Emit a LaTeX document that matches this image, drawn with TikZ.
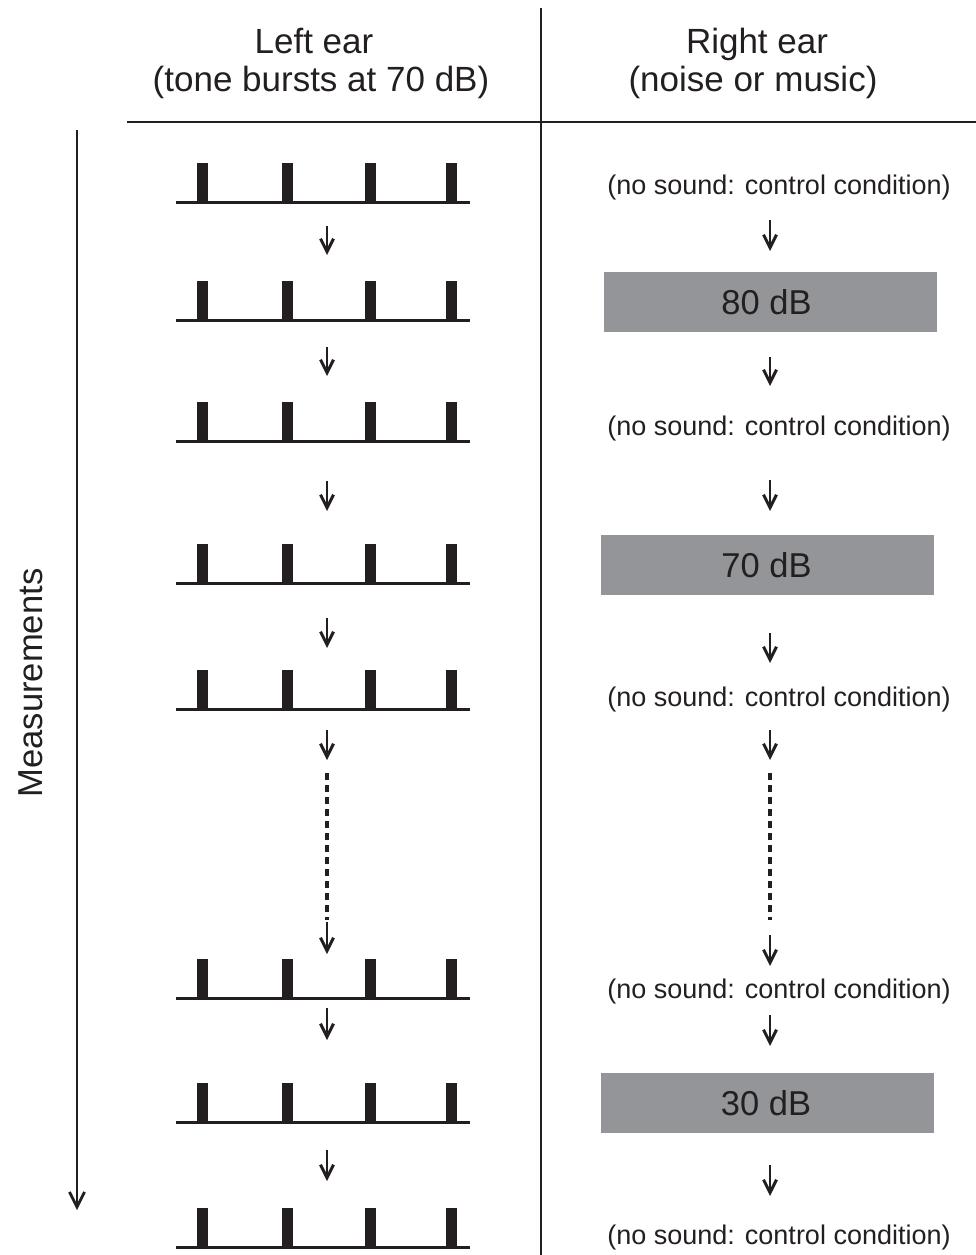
\documentclass[tikz,border=0pt]{standalone}
\usepackage{fontspec}
\setmainfont{Liberation Sans}
\usetikzlibrary{arrows.meta}
\definecolor{boxgray}{HTML}{939598}
\definecolor{ink}{HTML}{231F20}
\begin{document}
\begin{tikzpicture}[x=1pt,y=-1pt,
  rule/.style={line width=2.4pt, draw=ink},
  arr/.style={line width=2.8pt, draw=ink, -{Straight Barb[length=13pt,width=13pt,line width=3pt]}},
  dots/.style={line width=3.6pt, draw=ink, dash pattern=on 7pt off 5pt},
  head/.style={font=\fontsize{35}{42}\selectfont, anchor=base, inner sep=0pt, text=ink},
  cond/.style={font=\fontsize{27}{32}\selectfont, inner sep=0pt, text=ink},
  dbbox/.style={fill=boxgray, minimum width=333pt, minimum height=60pt, inner sep=0pt, text=ink, font=\fontsize{34.5}{40}\selectfont},
  pics/bursts/.style={code={
    \draw[line width=3pt, ink] (176,0) -- (470,0);
    \foreach \bx in {197,282,365,446} \fill[ink] (\bx,1) rectangle ++(11,-40);
  }}
]
\useasboundingbox (0,0) rectangle (976,1255);

% headers
\node[head] (hl1) at (314,53) {Left ear};
\node[head] (hl2) at (321,91) {(tone bursts at 70 dB)};
\node[head] (hr1) at (757,53) {Right ear};
\node[head] (hr2) at (753,91) {(noise or music)};

% rules
\coordinate (divtop) at (541,8);
\coordinate (divbot) at (541,1255);
\draw[rule] (divtop) -- (divbot);
\coordinate (hrl) at (127,122);
\coordinate (hrr) at (976,122);
\draw[rule] (hrl) -- (hrr);

% measurements axis
\coordinate (mtop) at (77,130);
\coordinate (mbot) at (77,1210);
\draw[line width=2.6pt, draw=ink, -{Straight Barb[length=15pt,width=15pt,line width=2.8pt]}] (mtop) -- (mbot);
\node[rotate=90, font=\fontsize{34.6}{40}\selectfont, inner sep=0pt, text=ink] (meas) at (31,683) {Measurements};

% tone burst rows
\foreach \yb in {202,320,441,583,709,998,1122,1247}
  \pic at (0,\yb) {bursts};

% left arrows
\foreach \i/\ya/\yb in {1/226/255,2/347/376,3/481/511,4/618/648,5/730/760,6/922/954,7/1008/1040,8/1150/1181}{
  \coordinate (la\i a) at (327,\ya);
  \coordinate (la\i b) at (327,\yb);
  \draw[arr] (la\i a) -- (la\i b);
}
\coordinate (ldA) at (327,773);
\coordinate (ldB) at (327,920);
\draw[dots] (ldA) -- (ldB);

% right column texts
\node[cond] (r1) at (779,188) {(no sound: control condition)};
\node[cond] (r2) at (779,429) {(no sound: control condition)};
\node[cond] (r3) at (779,700) {(no sound: control condition)};
\node[cond] (r4) at (779,991) {(no sound: control condition)};
\node[cond] (r5) at (779,1237) {(no sound: control condition)};

\node[dbbox] (b1) at (770.5,302) {80 dB\hspace*{8pt}};
\node[dbbox] (b2) at (767.5,565) {70 dB\hspace*{2pt}};
\node[dbbox] (b3) at (767.5,1103) {30 dB\hspace*{3pt}};

% right arrows
\foreach \i/\ya/\yb in {1/220/251,2/357/386,3/480/511,4/633/663,5/730/760,6/935/966,7/1015/1046,8/1165/1196}{
  \coordinate (ra\i a) at (770,\ya);
  \coordinate (ra\i b) at (770,\yb);
  \draw[arr] (ra\i a) -- (ra\i b);
}
\coordinate (rdA) at (770,773);
\coordinate (rdB) at (770,920);
\draw[dots] (rdA) -- (rdB);
\end{tikzpicture}
\end{document}
